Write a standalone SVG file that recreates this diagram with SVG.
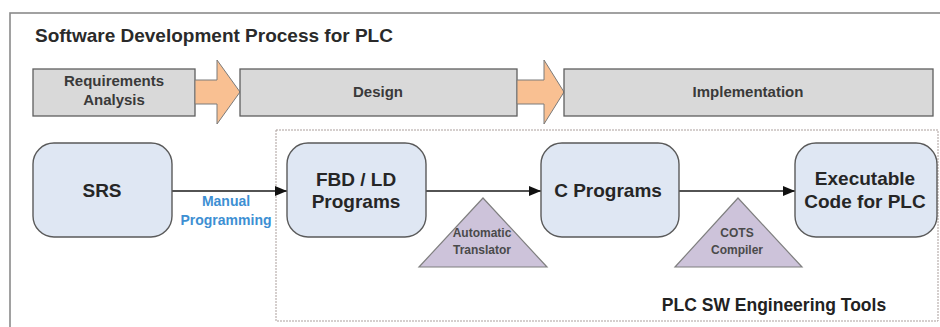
<svg xmlns="http://www.w3.org/2000/svg" width="940" height="327" viewBox="0 0 940 327">
<defs>
<style>
text{font-family:"Liberation Sans",Arial,sans-serif;font-weight:bold;text-anchor:middle}
.phase{fill:#d9d9d9;stroke:#5f5f5f;stroke-width:1.3}
.parrow{fill:#f9c092;stroke:#7a7a7a;stroke-width:1}
.ptxt{font-size:15px;fill:#3a3a3a}
.node{fill:#dfe7f3;stroke:#5a5a5a;stroke-width:1.4}
.ntxt{font-size:19px;fill:#262626}
.tool{fill:#cdc3da;stroke:#7f7f7f;stroke-width:1.2}
.ttxt{font-size:12px;fill:#4a4a4a}
.conn{stroke:#1a1a1a;stroke-width:1.4;fill:none}
</style>
<marker id="ah" viewBox="0 0 12 10" refX="12" refY="5" markerWidth="12" markerHeight="10" markerUnits="userSpaceOnUse" orient="auto">
<path d="M0,0 L12,5 L0,10 Z" fill="#111"/>
</marker>
</defs>
<rect x="0" y="0" width="940" height="327" fill="#ffffff"/>
<g id="frame">
<rect x="10" y="13" width="940" height="330" fill="none" stroke="#8a8a8a" stroke-width="1.6"/>
<text x="35" y="42" style="font-size:19px;fill:#2a2a2a;text-anchor:start">Software Development Process for PLC</text>
</g>
<g id="phases">
<g id="phase-req">
<rect class="phase" x="33" y="69" width="162" height="47"/>
<text class="ptxt" x="114" y="86">Requirements</text>
<text class="ptxt" x="114" y="105">Analysis</text>
</g>
<polygon class="parrow" points="195,80 217,80 217,60 240,92 217,124 217,104 195,104"/>
<g id="phase-design">
<rect class="phase" x="240" y="69" width="277" height="47"/>
<text class="ptxt" x="378" y="97">Design</text>
</g>
<polygon class="parrow" points="517,80 544,80 544,60 564,92 544,124 544,104 517,104"/>
<g id="phase-impl">
<rect class="phase" x="564" y="69" width="369" height="47"/>
<text class="ptxt" x="748" y="97">Implementation</text>
</g>
</g>
<g id="tools-box">
<rect x="276" y="130" width="662" height="191" fill="none" stroke="#ab9f9c" stroke-width="1" stroke-dasharray="2 1"/>
<text x="774" y="311" style="font-size:17.5px;fill:#222">PLC SW Engineering Tools</text>
</g>
<g id="connectors">
<line class="conn" x1="172" y1="191" x2="287" y2="191" marker-end="url(#ah)"/>
<line class="conn" x1="426" y1="191" x2="541" y2="191" marker-end="url(#ah)"/>
<line class="conn" x1="679" y1="191" x2="795" y2="191" marker-end="url(#ah)"/>
<text x="226" y="206" style="font-size:14px;fill:#3d8fd3">Manual</text>
<text x="226" y="225" style="font-size:14px;fill:#3d8fd3">Programming</text>
</g>
<g id="srs">
<rect class="node" x="33" y="143" width="139" height="94" rx="21"/>
<text class="ntxt" x="102" y="197">SRS</text>
</g>
<g id="fbd">
<rect class="node" x="287" y="143" width="139" height="94" rx="21"/>
<text class="ntxt" x="356" y="186">FBD / LD</text>
<text class="ntxt" x="356" y="208">Programs</text>
</g>
<g id="cprog">
<rect class="node" x="541" y="143" width="138" height="94" rx="21"/>
<text class="ntxt" x="608" y="197">C Programs</text>
</g>
<g id="exec">
<rect class="node" x="795" y="143" width="142" height="94" rx="21"/>
<text class="ntxt" x="865" y="185">Executable</text>
<text class="ntxt" x="865" y="208">Code for PLC</text>
</g>
<g id="translator">
<polygon class="tool" points="483,198 547,267 419,267"/>
<text class="ttxt" x="482" y="237">Automatic</text>
<text class="ttxt" x="482" y="254">Translator</text>
</g>
<g id="compiler">
<polygon class="tool" points="738,198 802,267 675,267"/>
<text class="ttxt" x="737" y="237">COTS</text>
<text class="ttxt" x="737" y="254">Compiler</text>
</g>
</svg>
